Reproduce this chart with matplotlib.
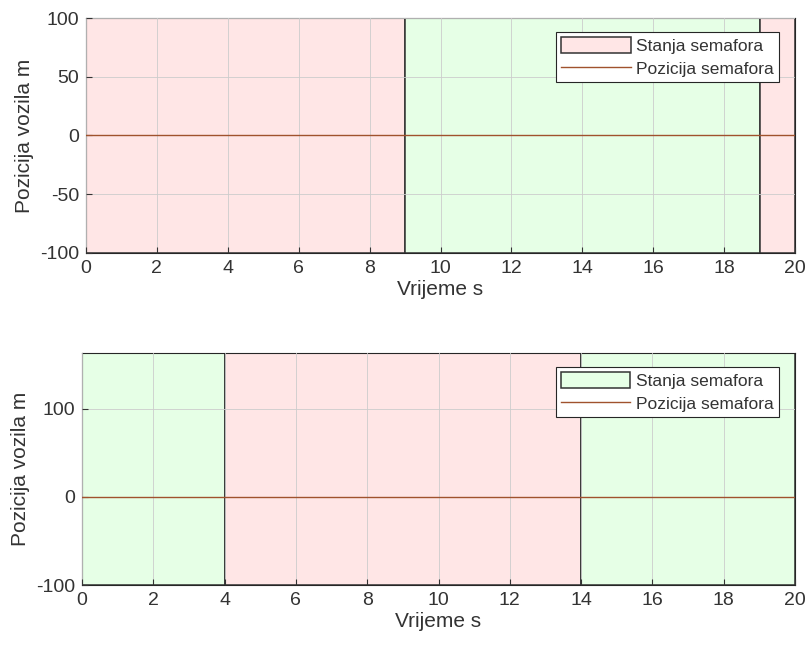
import matplotlib.pyplot as plt
from matplotlib.patches import Rectangle

plt.rcParams['font.family'] = ['Liberation Sans', 'DejaVu Sans']
plt.rcParams['axes.unicode_minus'] = False

# semafor phases: (start, end, state)
faze_1 = [(0, 9, 'r'), (9, 19, 'g'), (19, 20, 'r')]
faze_2 = [(0, 4, 'g'), (4, 14, 'r'), (14, 20, 'g')]
vrijeme = [0, 20]
pozicija = [0, 0]
ylim_1 = (-100, 100)
ylim_2 = (-100, 163)
yticks_1 = [-100, -50, 0, 50, 100]
yticks_2 = [-100, 0, 100]
xticks = list(range(0, 21, 2))

BOJE = {'r': '#ffe6e6', 'g': '#e6ffe6'}
LINIJA = '#a0522d'
TEKST = '#333333'


def crtaj(ax, faze, ylim, yticks):
    ax.set_xlim(0, 20)
    ax.set_ylim(*ylim)
    first = None
    for start, end, st in faze:
        p = Rectangle((start, ylim[0]), end - start, ylim[1] - ylim[0],
                      facecolor=BOJE[st], edgecolor='#333333', linewidth=1.1,
                      zorder=1)
        ax.add_patch(p)
        if first is None:
            first = p
    ln, = ax.plot(vrijeme, pozicija, color=LINIJA, linewidth=1.0, zorder=3)
    ax.set_xticks(xticks)
    ax.set_yticks(yticks)
    ax.grid(True, color='#cccccc', linewidth=0.6, zorder=2)
    ax.set_axisbelow(False)
    ax.tick_params(direction='in', labelsize=14, colors=TEKST, length=4, pad=5)
    for s in ax.spines.values():
        s.set_color('#262626')
        s.set_linewidth(0.8)
    ax.set_xlabel('Vrijeme s', fontsize=15, color=TEKST, labelpad=2)
    ax.set_ylabel('Pozicija vozila m', fontsize=15, color=TEKST, labelpad=4)
    leg = ax.legend([first, ln], ['Stanja semafora', 'Pozicija semafora'],
                    loc='upper right', bbox_to_anchor=(0.977, 0.94),
                    fontsize=12.5, fancybox=False, framealpha=1,
                    edgecolor='#262626', borderpad=0.3, labelspacing=0.35,
                    handlelength=4.0, handleheight=1.0, handletextpad=0.3,
                    borderaxespad=0)
    leg.get_frame().set_linewidth(0.8)
    for t in leg.get_texts():
        t.set_color(TEKST)


fig = plt.figure(figsize=(8.09, 6.48), dpi=100)
ax1 = fig.add_axes([0.1063, 0.6096, 0.8764, 0.3626])
ax2 = fig.add_axes([0.1014, 0.0972, 0.8813, 0.3580])
crtaj(ax1, faze_1, ylim_1, yticks_1)
crtaj(ax2, faze_2, ylim_2, yticks_2)

fig.savefig('out.png', dpi=100)
